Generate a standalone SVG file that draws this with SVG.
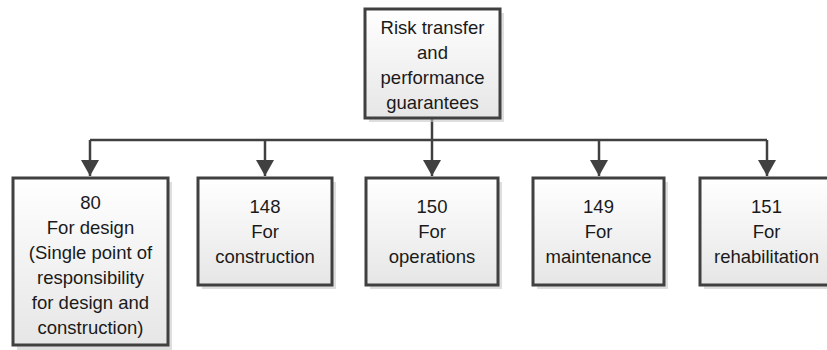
<svg xmlns="http://www.w3.org/2000/svg" width="827" height="350" viewBox="0 0 827 350">
<defs>
<linearGradient id="g" x1="0" y1="0" x2="0" y2="1">
<stop offset="0" stop-color="#ffffff"/>
<stop offset="1" stop-color="#e6e6e6"/>
</linearGradient>
<marker id="arr" markerWidth="16" markerHeight="18" refX="16" refY="9" orient="auto" markerUnits="userSpaceOnUse" viewBox="0 0 16 18">
<path d="M0,0 L16,9 L0,18 z" fill="#404040"/>
</marker>
<style>
.box{fill:url(#g);stroke:#404040;stroke-width:3}
.sh{fill:#c8c8c8;opacity:0.6}
.t{font-family:"Liberation Sans",Arial,sans-serif;font-size:18.5px;fill:#1a1a1a;text-anchor:middle}
.c{fill:none;stroke:#404040;stroke-width:2.5}
</style>
</defs>
<g id="connectors">
<path class="c" d="M432,118 V140"/>
<path class="c" d="M90,140 H767"/>
<path class="c" d="M90,140 V176" marker-end="url(#arr)"/>
<path class="c" d="M265,140 V176" marker-end="url(#arr)"/>
<path class="c" d="M432,140 V176" marker-end="url(#arr)"/>
<path class="c" d="M599,140 V176" marker-end="url(#arr)"/>
<path class="c" d="M767,140 V176" marker-end="url(#arr)"/>
</g>
<g id="top">
<rect class="sh" x="369" y="13" width="135" height="109"/>
<rect class="box" x="365" y="9" width="135" height="109"/>
<text class="t" x="432.5" y="34">Risk transfer</text>
<text class="t" x="432.5" y="59">and</text>
<text class="t" x="432.5" y="84">performance</text>
<text class="t" x="432.5" y="109">guarantees</text>
</g>
<g id="n80">
<rect class="sh" x="17" y="182" width="155" height="168"/>
<rect class="box" x="13" y="178" width="155" height="167"/>
<text class="t" x="90.5" y="209">80</text>
<text class="t" x="90.5" y="234">For design</text>
<text class="t" x="90.5" y="259">(Single point of</text>
<text class="t" x="90.5" y="284">responsibility</text>
<text class="t" x="90.5" y="309">for design and</text>
<text class="t" x="90.5" y="334">construction)</text>
</g>
<g id="n148">
<rect class="sh" x="202" y="182" width="134" height="107"/>
<rect class="box" x="198" y="178" width="134" height="107"/>
<text class="t" x="265" y="213">148</text>
<text class="t" x="265" y="238">For</text>
<text class="t" x="265" y="263">construction</text>
</g>
<g id="n150">
<rect class="sh" x="370" y="182" width="132" height="107"/>
<rect class="box" x="366" y="178" width="132" height="107"/>
<text class="t" x="432" y="213">150</text>
<text class="t" x="432" y="238">For</text>
<text class="t" x="432" y="263">operations</text>
</g>
<g id="n149">
<rect class="sh" x="537" y="182" width="131" height="107"/>
<rect class="box" x="533" y="178" width="131" height="107"/>
<text class="t" x="598.5" y="213">149</text>
<text class="t" x="598.5" y="238">For</text>
<text class="t" x="598.5" y="263">maintenance</text>
</g>
<g id="n151">
<rect class="sh" x="704" y="182" width="133" height="107"/>
<rect class="box" x="700" y="178" width="133" height="107"/>
<text class="t" x="766.5" y="213">151</text>
<text class="t" x="766.5" y="238">For</text>
<text class="t" x="766.5" y="263">rehabilitation</text>
</g>
</svg>
